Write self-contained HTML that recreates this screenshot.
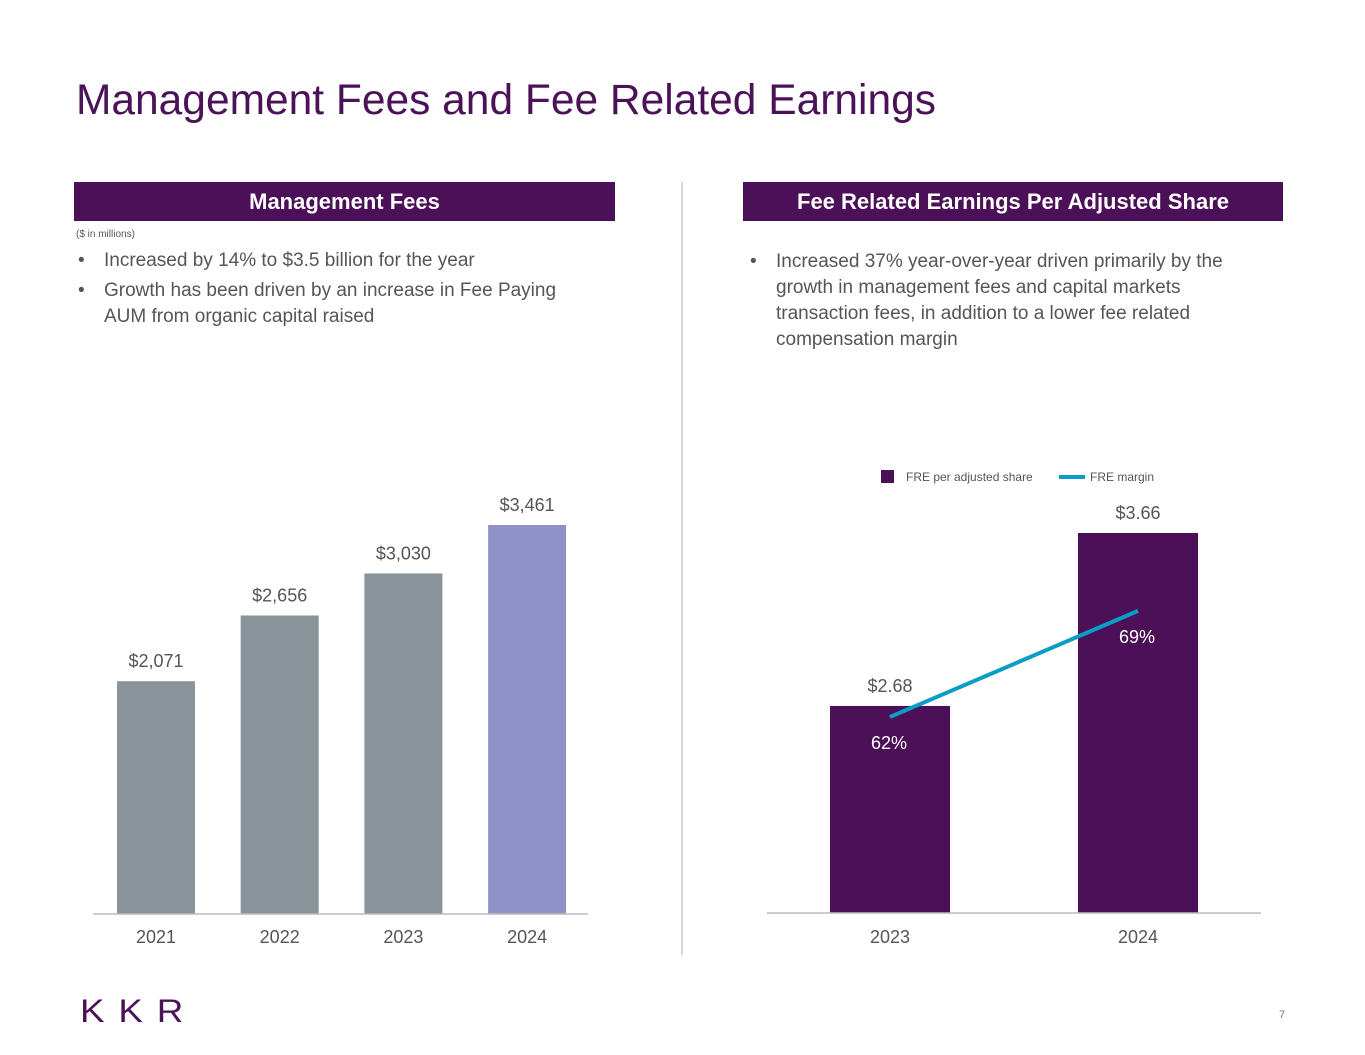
<!DOCTYPE html>
<html><head><meta charset="utf-8">
<style>
body{margin:0;width:1365px;height:1055px;background:#fff;font-family:"Liberation Sans",sans-serif;position:relative;overflow:hidden}
.abs{position:absolute}
.title{left:76px;top:77px;font-size:42.5px;color:#4b1257;white-space:nowrap}
.hdr{top:182px;height:39px;background:#4b1057;color:#fff;font-weight:bold;font-size:22px;text-align:center;line-height:39px}
.bul{font-size:19px;color:#555;line-height:26px}
.bul div{position:relative;padding-left:28px}
.bul div:before{content:"•";position:absolute;left:2px}
</style></head><body>
<div class="abs title">Management Fees and Fee Related Earnings</div>
<div class="abs hdr" style="left:74px;width:541px">Management Fees</div>
<div class="abs hdr" style="left:743px;width:540px">Fee Related Earnings Per Adjusted Share</div>
<div class="abs" style="left:76px;top:229px;font-size:10px;color:#555">($ in millions)</div>
<div class="abs bul" style="left:76px;top:248px;width:520px">
<div style="margin-bottom:4px">Increased by 14% to $3.5 billion for the year</div>
<div>Growth has been driven by an increase in Fee Paying AUM from organic capital raised</div></div>
<div class="abs bul" style="left:748px;top:249px;width:520px">
<div>Increased 37% year-over-year driven primarily by the growth in management fees and capital markets transaction fees, in addition to a lower fee related compensation margin</div></div>
<div class="abs" style="left:681px;top:182px;width:2px;height:773px;background:#d6d6d6"></div>
<svg class="abs" style="left:0;top:0" width="1365" height="1055" id="svg"></svg>
<div class="abs" style="left:80px;top:993px;font-size:32px;color:#4b1257;letter-spacing:12px;font-weight:normal;transform:scaleX(1.15);transform-origin:left">KKR</div>
<div class="abs" style="left:1279px;top:1009px;font-size:11px;color:#777">7</div>
<script>
const mfYears=["2021","2022","2023","2024"];
const mfValues=[2071,2656,3030,3461];
const mfLabels=["$2,071","$2,656","$3,030","$3,461"];
const freYears=["2023","2024"];
const freValues=[2.68,3.66];
const freLabels=["$2.68","$3.66"];
const marginValues=[62,69];
const marginLabels=["62%","69%"];
const NS="http://www.w3.org/2000/svg",svg=document.getElementById('svg');
function mk(t,a,txt){const e=document.createElementNS(NS,t);for(const k in a)e.setAttribute(k,a[k]);if(txt!=null)e.textContent=txt;svg.appendChild(e);return e;}
const lBase=914,lScale=389/3461;
const lx=i=>117+i*123.7;
mfValues.forEach((v,i)=>{
 const h=v*lScale;
 const r=mk('rect',{x:lx(i),y:lBase-h,width:78,height:h,fill:i==3?'#8f92c9':'#89939a'});
 
 const t=mk('text',{x:lx(i)+39,y:lBase-h-14,'text-anchor':'middle','font-size':18,fill:'#555'},mfLabels[i]);
 
 const x=mk('text',{x:lx(i)+39,y:943,'text-anchor':'middle','font-size':18,fill:'#555'},mfYears[i]);
 
});
const la=mk('line',{x1:93,x2:588,y1:lBase,y2:lBase,stroke:'#bbb','stroke-width':1.5});

const rBase=913,rMin=1.507,rScale=176.5;
const ry=v=>rBase-(v-rMin)*rScale;
const rx=i=>830+i*248;
const my=v=>823-(v-55)*(303/20);
freValues.forEach((v,i)=>{
 const r=mk('rect',{x:rx(i),y:ry(v),width:120,height:rBase-ry(v),fill:'#4b1057'});
 
 const t=mk('text',{x:rx(i)+60,y:ry(v)-14,'text-anchor':'middle','font-size':18,fill:'#555'},freLabels[i]);
 
 const x=mk('text',{x:rx(i)+60,y:943,'text-anchor':'middle','font-size':18,fill:'#555'},freYears[i]);
 
});
const pl=mk('polyline',{points:marginValues.map((v,i)=>(rx(i)+60)+','+my(v)).join(' '),fill:'none',stroke:'#0a9ec6','stroke-width':4});

marginValues.forEach((v,i)=>{
 const t=mk('text',{x:rx(i)+59,y:my(v)+32,'text-anchor':'middle','font-size':18,fill:'#fff'},marginLabels[i]);
 
});
const ra=mk('line',{x1:767,x2:1261,y1:rBase,y2:rBase,stroke:'#bbb','stroke-width':1.5});

const l1=mk('rect',{x:881,y:470,width:13,height:13,fill:'#4b1057'});

const l2=mk('text',{x:906,y:481,'font-size':12,fill:'#555'},'FRE per adjusted share');

const l3=mk('line',{x1:1059,x2:1085,y1:477,y2:477,stroke:'#0a9ec6','stroke-width':4});

const l4=mk('text',{x:1090,y:481,'font-size':12,fill:'#555'},'FRE margin');

</script>
</body></html>
